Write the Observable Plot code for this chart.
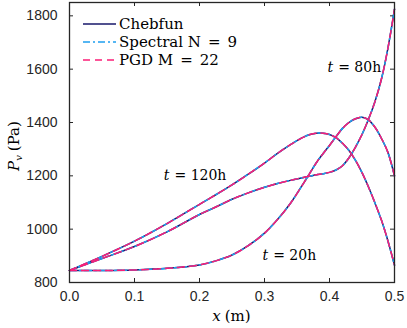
<!DOCTYPE html>
<html><head><meta charset="utf-8">
<script src="https://cdn.jsdelivr.net/npm/d3@7"></script>
<script src="https://cdn.jsdelivr.net/npm/@observablehq/plot@0.6"></script>
<style>html,body{margin:0;padding:0;background:#fff;} #chart{width:407px;height:328px;position:relative;}
.serif{font-family:"DejaVu Serif";}
</style>
</head><body><div id="chart"></div>
<script>
// shared x positions (m)
const xGrid = [0, 0.05, 0.1, 0.15, 0.2, 0.225, 0.25, 0.275, 0.3, 0.32, 0.34, 0.36, 0.37, 0.38, 0.39, 0.40, 0.41, 0.42, 0.43, 0.44, 0.45, 0.46, 0.47, 0.48, 0.49, 0.5];
// vapour pressure (Pa) at each time
const p20  = [845, 845, 847, 853, 866, 881, 903, 938, 985, 1036, 1097, 1172, 1211, 1250, 1283, 1314, 1347, 1378, 1400, 1414, 1420, 1410, 1382, 1340, 1287, 1200];
const p80  = [845, 890, 935, 990, 1055, 1083, 1112, 1136, 1157, 1171, 1183, 1194, 1199, 1204, 1208, 1213, 1222, 1238, 1268, 1308, 1355, 1412, 1479, 1564, 1680, 1825];
const p120 = [845, 898, 955, 1021, 1093, 1129, 1166, 1206, 1248, 1284, 1317, 1345, 1355, 1360, 1360, 1355, 1343, 1322, 1295, 1258, 1212, 1158, 1098, 1033, 955, 865];
const timeNames = ["20h", "80h", "120h"];
const timeLabelX = [0.339, 0.439, 0.194];
const timeLabelY = [900, 1606, 1200];
const methods = ["Chebfun", "Spectral N = 9", "PGD M = 22"];
const methodColors = ["#17176a", "#1e9fef", "#fb1e77"];
const methodDash = [null, "7,3,2,3", "7,5"];
const xTicks = [0, 0.1, 0.2, 0.3, 0.4, 0.5];
const yTicks = [800, 1000, 1200, 1400, 1600, 1800];

const series = [p20, p80, p120];
const rows = [];
methods.forEach((m, mi) => timeNames.forEach((t, ti) => xGrid.forEach((x, i) => rows.push({method: m, time: t, x, p: series[ti][i]}))));

const W = 407, H = 328, mL = 69, mR = 13, mT = 2, mB = 46;
const innerW = W - mL - mR, innerH = H - mT - mB;
const axisColor = "#262626";
const SERIF = "DejaVu Serif";
const SANS = "Liberation Sans";

const chart = Plot.plot({
  width: W, height: H,
  marginLeft: mL, marginRight: mR, marginTop: mT, marginBottom: mB,
  x: {domain: [0, 0.5]},
  y: {domain: [800, 1850]},
  style: {background: "white", color: axisColor},
  marks: [
    Plot.axisX(xTicks, {tickSize: 0, tickPadding: 9, label: null, fill: axisColor, fontFamily: SANS, fontSize: 14}),
    Plot.axisY(yTicks, {tickSize: 0, tickPadding: 12, label: null, tickFormat: d3.format("d"), fill: axisColor, fontFamily: SANS, fontSize: 14}),
    Plot.tickX(xTicks, {x: d => d, insetTop: innerH - 4, stroke: axisColor}),
    Plot.tickX(xTicks, {x: d => d, insetBottom: innerH - 4, stroke: axisColor}),
    Plot.tickY(yTicks, {y: d => d, insetRight: innerW - 4, stroke: axisColor}),
    Plot.tickY(yTicks, {y: d => d, insetLeft: innerW - 4, stroke: axisColor}),
    ...methods.map((m, mi) => Plot.line(rows.filter(r => r.method === m), {
      x: "x", y: "p", z: "time", curve: "catmull-rom",
      stroke: methodColors[mi], strokeWidth: 1.5,
      strokeDasharray: methodDash[mi]
    })),
    Plot.frame({stroke: axisColor, strokeWidth: 1.3})
  ]
});
document.getElementById("chart").appendChild(chart);

const svg = d3.select(chart);
const sx = chart.scale("x"), sy = chart.scale("y");

// text made of separately styled pieces (no tspans)
function rich(parts, {x, y, anchor = "middle", rotate = 0}) {
  const g = svg.append("g").attr("transform", `translate(${x},${y}) rotate(${rotate})`);
  let cx = 0;
  const nodes = parts.map(p => {
    cx += p.gap || 0;
    const size = p.size || 14;
    const t = g.append("text")
      .attr("class", "serif")
      .attr("text-anchor", "start")
      .attr("font-family", SERIF).style("font-family", SERIF)
      .attr("font-size", size).style("font-size", size + "px")
      .attr("font-style", p.italic ? "italic" : "normal").style("font-style", p.italic ? "italic" : "normal")
      .attr("fill", "black")
      .attr("y", p.dy || 0)
      .text(p.text);
    t.attr("data-x", cx);
    cx += t.node().getComputedTextLength();
    return t;
  });
  const shift = anchor === "middle" ? -cx / 2 : anchor === "end" ? -cx : 0;
  nodes.forEach(t => t.attr("x", +t.attr("data-x") + shift).attr("data-x", null));
  return g;
}

// time annotations, placed through the plot's scales
timeNames.forEach((t, i) => {
  rich([{text: "t", italic: true}, {text: "= " + t, gap: 5}],
       {x: sx.apply(timeLabelX[i]), y: sy.apply(timeLabelY[i]) + 5});
});

// legend inside the axes (math-style spacing around "=")
methods.forEach((m, i) => {
  const y = 24 + 18 * i;
  svg.append("line").attr("x1", 83).attr("x2", 116).attr("y1", y).attr("y2", y)
    .attr("stroke", methodColors[i]).attr("stroke-width", 1.5)
    .attr("stroke-dasharray", methodDash[i]);
  const pieces = m.split(" = ");
  const parts = pieces.length === 2
    ? [{text: pieces[0], size: 15}, {text: "=", size: 15, gap: 7}, {text: pieces[1], size: 15, gap: 7}]
    : [{text: m, size: 15}];
  rich(parts, {x: 119, y: y + 5, anchor: "start"});
});

// axis titles
rich([{text: "x", italic: true, size: 15}, {text: "(m)", gap: 4, size: 15}], {x: mL + innerW / 2, y: 321});
rich([{text: "P", italic: true, size: 15}, {text: "v", italic: true, size: 10, dy: 3}, {text: "(Pa)", gap: 4, size: 15}],
     {x: 19, y: mT + innerH / 2 + 4, rotate: -90});
</script>
</body></html>
